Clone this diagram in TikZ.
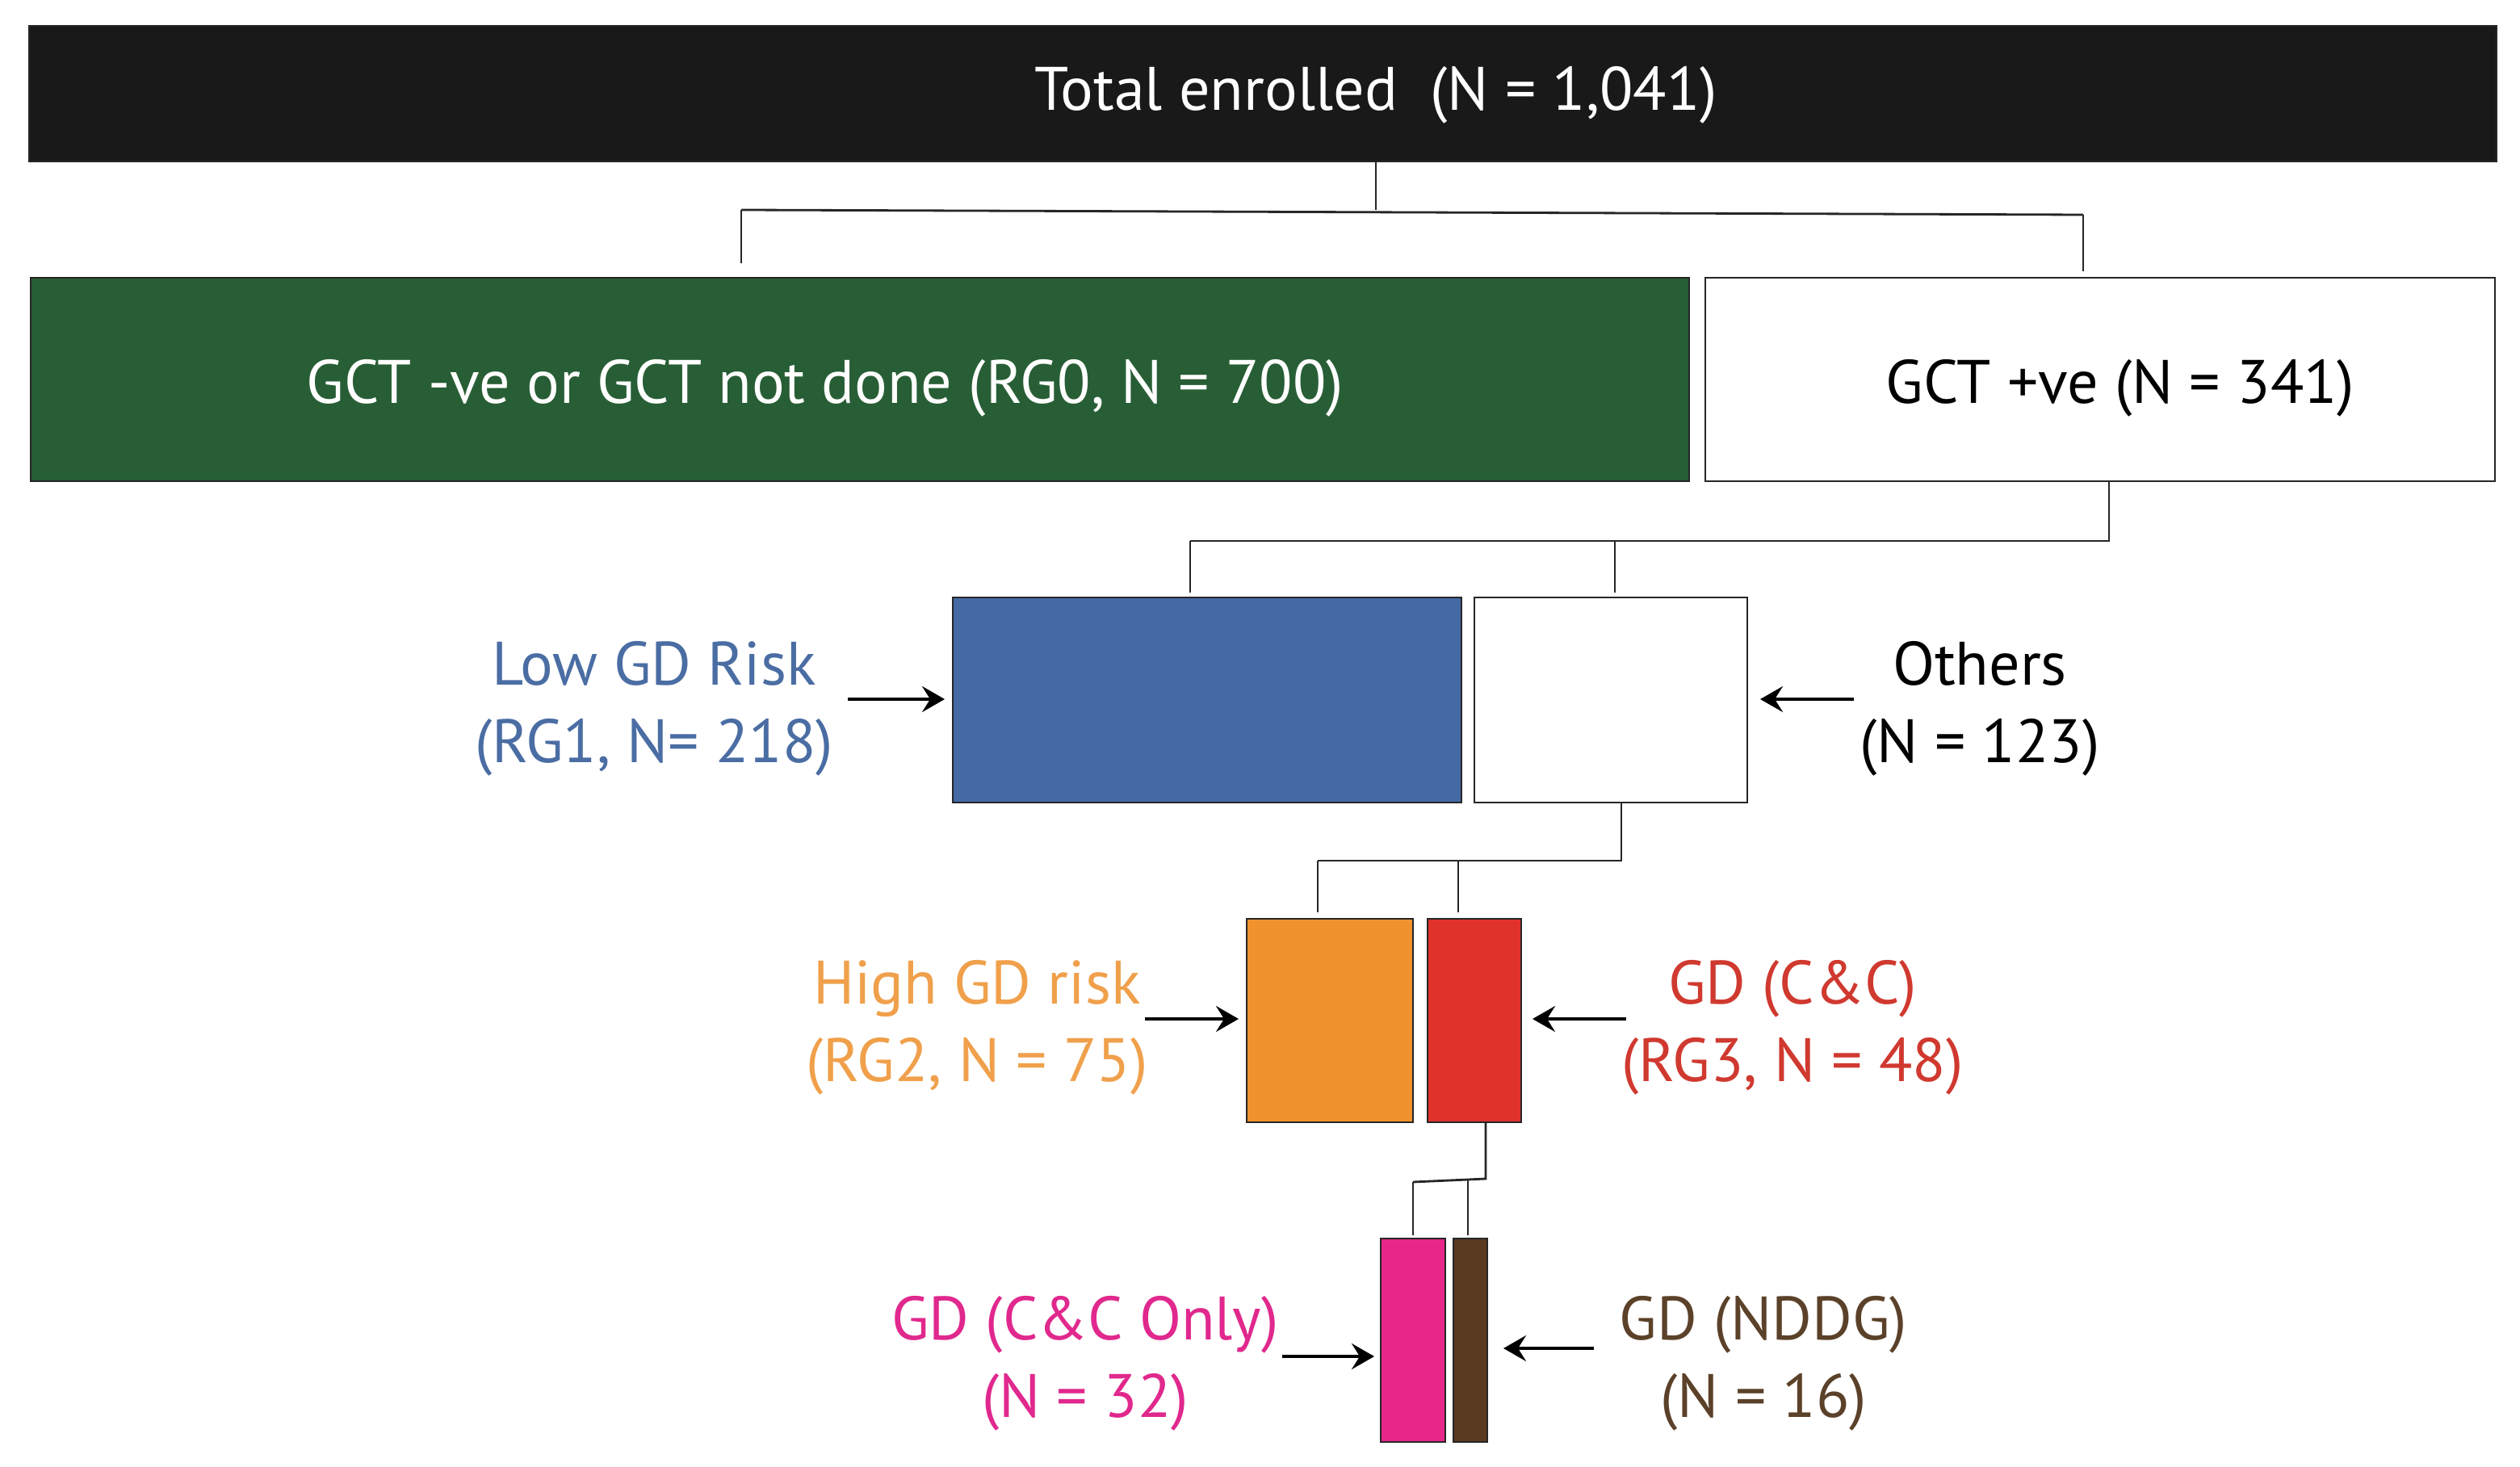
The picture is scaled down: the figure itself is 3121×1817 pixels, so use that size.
\documentclass[tikz,border=0pt]{standalone}
\usepackage{fontspec}
\setmainfont{PT Sans}
\usetikzlibrary{arrows.meta}
\definecolor{cgreen}{HTML}{285E35}
\definecolor{cblue}{HTML}{4469A5}
\definecolor{corange}{HTML}{F0922E}
\definecolor{cred}{HTML}{E0312B}
\definecolor{cpink}{HTML}{E8268A}
\definecolor{cbrown}{HTML}{5B3A22}
\definecolor{tblue}{HTML}{4A6DA3}
\definecolor{torange}{HTML}{F0A04B}
\definecolor{tred}{HTML}{D0392F}
\definecolor{tpink}{HTML}{E0288D}
\definecolor{tbrown}{HTML}{5B4129}
\begin{document}
\begin{tikzpicture}[x=0.25pt,y=-0.25pt,
  box/.style={draw=black!85,line width=0.6pt,inner sep=0pt,outer sep=0pt},
  txt/.style={font=\fontsize{19}{24}\selectfont,align=center,inner sep=0pt},
  conn/.style={draw=black!85,line width=0.7pt},
  arr/.style={draw=black,line width=0.9pt,-{Stealth[length=7pt,width=8pt,inset=2.5pt]}}]
\useasboundingbox[fill=white] (0,0) rectangle (3121,1817);
% boxes
\node[box,fill=black!90,minimum width=764pt,minimum height=42pt] (total) at (1564,116) {};
\node[box,fill=cgreen,minimum width=513.5pt,minimum height=63pt] (rg0) at (1065,470) {};
\node[box,fill=white,minimum width=244.5pt,minimum height=63pt] (gp) at (2601,470) {};
\node[box,fill=cblue,minimum width=157.5pt,minimum height=63.5pt] (rg1) at (1495,867) {};
\node[box,fill=white,minimum width=84.5pt,minimum height=63.5pt] (oth) at (1995,867) {};
\node[box,fill=corange,minimum width=51.5pt,minimum height=63pt] (rg2) at (1647,1264) {};
\node[box,fill=cred,minimum width=29pt,minimum height=63pt] (rg3) at (1826,1264) {};
\node[box,fill=cpink,minimum width=20pt,minimum height=63pt] (cco) at (1750,1660) {};
\node[box,fill=cbrown,minimum width=10.5pt,minimum height=63pt] (nddg) at (1821,1660) {};
% texts
\node[txt,text=white] (ttotal) at (1704,118) {Total enrolled\ \ (N = 1,041)};
\node[txt,text=white] (trg0) at (1022,481) {GCT -ve or GCT not done (RG0, N = 700)};
\node[txt,text=black] (tgp) at (2626,481) {GCT +ve (N = 341)};
\node[txt,text=tblue] (trg1) at (810,878) {Low GD Risk\\(RG1, N= 218)};
\node[txt,text=black] (toth) at (2452,878) {Others\\(N = 123)};
\node[txt,text=torange] (trg2) at (1210,1273) {High GD risk\\(RG2, N = 75)};
\node[txt,text=tred] (trg3) at (2220,1273) {GD (C\&C)\\(RG3, N = 48)};
\node[txt,text=tpink] (tcco) at (1344,1689) {GD (C\&C Only)\\(N = 32)};
\node[txt,text=tbrown] (tnddg) at (2184,1689) {GD (NDDG)\\(N = 16)};
% connectors level 1
\coordinate (b1l) at (918,260);
\coordinate (b1r) at (2580,266);
\draw[conn] (ttotal.south |- total.south) -- (ttotal.south |- b1l);
\draw[conn] (b1l) -- (b1r);
\draw[conn,shorten >=4.5pt] (b1l) -- (b1l |- rg0.north);
\draw[conn,shorten >=2pt] (b1r) -- (b1r |- gp.north);
% level 2
\coordinate (b2r) at (2612,670);
\coordinate (b2l) at (1474,670);
\coordinate (b2m) at (2000,670);
\draw[conn] (b2r |- gp.south) -- (b2r) -- (b2l);
\draw[conn,shorten >=1.5pt] (b2l) -- (b2l |- rg1.north);
\draw[conn,shorten >=1.5pt] (b2m) -- (b2m |- oth.north);
% level 3
\coordinate (b3r) at (2008,1066);
\coordinate (b3l) at (1632,1066);
\coordinate (b3m) at (1806,1066);
\draw[conn] (b3r |- oth.south) -- (b3r) -- (b3l);
\draw[conn,shorten >=2pt] (b3l) -- (b3l |- rg2.north);
\draw[conn,shorten >=2pt] (b3m) -- (b3m |- rg3.north);
% level 4
\coordinate (b4r) at (1840,1460);
\coordinate (b4l) at (1750,1464);
\coordinate (b4m) at (1818,1462);
\draw[conn] (b4r |- rg3.south) -- (b4r) -- (b4l);
\draw[conn,shorten >=1pt] (b4l) -- (b4l |- cco.north);
\draw[conn,shorten >=1pt] (b4m) -- (b4m |- nddg.north);
% arrows
\coordinate (a1) at (1050,866);
\coordinate (a2) at (2296,866);
\coordinate (a3) at (1418,1262);
\coordinate (a4) at (2014,1262);
\coordinate (a5) at (1588,1680);
\coordinate (a6) at (1974,1670);
\draw[arr,shorten >=2.5pt] (a1) -- (a1 -| rg1.west);
\draw[arr,shorten >=4pt] (a2) -- (a2 -| oth.east);
\draw[arr,shorten >=2.5pt] (a3) -- (a3 -| rg2.west);
\draw[arr,shorten >=3.5pt] (a4) -- (a4 -| rg3.east);
\draw[arr,shorten >=2pt] (a5) -- (a5 -| cco.west);
\draw[arr,shorten >=5pt] (a6) -- (a6 -| nddg.east);
\end{tikzpicture}
\end{document}
